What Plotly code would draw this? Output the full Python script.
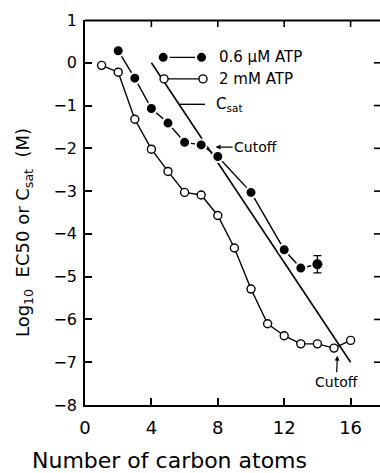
import plotly.graph_objects as go

# ---- data ----
carbons_low_atp = [2, 3, 4, 5, 6, 7, 8, 10, 12, 13, 14]
log_ec50_low_atp = [0.28, -0.36, -1.07, -1.41, -1.86, -1.92, -2.19, -3.03, -4.37, -4.80, -4.71]
err_last_low_atp = 0.2

carbons_high_atp = [1, 2, 3, 4, 5, 6, 7, 8, 9, 10, 11, 12, 13, 14, 15, 16]
log_ec50_high_atp = [-0.06, -0.22, -1.32, -2.02, -2.54, -3.03, -3.09, -3.57, -4.33,
                     -5.29, -6.10, -6.38, -6.57, -6.57, -6.67, -6.49]

csat_x = [4, 16]
csat_y = [0, -7]

x_ticks = [0, 4, 8, 12, 16]
y_ticks = [1, 0, -1, -2, -3, -4, -5, -6, -7, -8]

legend_labels = ["0.6 \u03bcM ATP", "2 mM ATP", "C<sub>sat</sub>"]

FONT = "DejaVu Sans"
BLACK = "black"
PLOT_W, PLOT_H = 295, 385
XMAX = PLOT_W / 16.6
YMIN, YMAX = -8, 1


def px(fx):   # plot-area fraction -> x data
    return fx * XMAX


def py(fy):   # plot-area fraction -> y data
    return YMIN + fy * (YMAX - YMIN)


fig = go.Figure()

fig.add_trace(go.Scatter(x=csat_x, y=csat_y, mode="lines",
                         line=dict(color=BLACK, width=1.6), hoverinfo="skip"))
fig.add_trace(go.Scatter(x=carbons_high_atp, y=log_ec50_high_atp, mode="lines+markers",
                         line=dict(color=BLACK, width=1.4),
                         marker=dict(symbol="circle", size=8, color="white",
                                     line=dict(color=BLACK, width=1.4))))
fig.add_trace(go.Scatter(x=carbons_low_atp, y=log_ec50_low_atp, mode="lines+markers",
                         line=dict(color=BLACK, width=1.4),
                         marker=dict(symbol="circle", size=11, color=BLACK,
                                     line=dict(color="white", width=2))))
fig.add_trace(go.Scatter(x=[carbons_low_atp[-1]], y=[log_ec50_low_atp[-1]], mode="markers",
                         marker=dict(size=10, color=BLACK),
                         error_y=dict(type="constant", value=err_last_low_atp,
                                      color=BLACK, thickness=1.3, width=4)))

# ---- custom legend (layout positions as plot-area fractions) ----
leg_rows = [  # (x0, x1, y, text_x)
    (0.265, 0.395, 0.903, 0.446),
    (0.268, 0.400, 0.847, 0.446),
    (0.322, 0.407, 0.781, 0.437),
]
r = leg_rows[0]
fig.add_trace(go.Scatter(x=[px(r[0]), px(r[1])], y=[py(r[2]), py(r[2])], mode="lines+markers",
                         line=dict(color=BLACK, width=1.4),
                         marker=dict(size=11, color=BLACK, line=dict(color="white", width=2))))
r = leg_rows[1]
fig.add_trace(go.Scatter(x=[px(r[0]), px(r[1])], y=[py(r[2]), py(r[2])], mode="lines+markers",
                         line=dict(color=BLACK, width=1.4),
                         marker=dict(size=8, color="white", line=dict(color=BLACK, width=1.4))))
r = leg_rows[2]
fig.add_trace(go.Scatter(x=[px(r[0]), px(r[1])], y=[py(r[2]), py(r[2])], mode="lines",
                         line=dict(color=BLACK, width=1.4)))

annotations = []
for row, lab in zip(leg_rows, legend_labels):
    annotations.append(dict(x=row[3], y=row[2], xref="paper", yref="paper", text=lab,
                            showarrow=False, xanchor="left", yanchor="middle",
                            font=dict(family=FONT, size=15, color=BLACK)))

annotations.append(dict(x=7.87, y=-1.97, xref="x", yref="y", text="Cutoff",
                        showarrow=True, ax=40, ay=0, arrowhead=2, arrowsize=0.8,
                        arrowwidth=1.2, arrowcolor=BLACK, standoff=0,
                        font=dict(family=FONT, size=14, color=BLACK)))
annotations.append(dict(x=15.2, y=-6.85, xref="x", yref="y", text="Cutoff",
                        showarrow=True, ax=-1, ay=26, arrowhead=2, arrowsize=0.8,
                        arrowwidth=1.2, arrowcolor=BLACK, standoff=0,
                        font=dict(family=FONT, size=14, color=BLACK)))

annotations.append(dict(x=-0.207, y=0.449, xref="paper", yref="paper",
                        text="Log<sub>10</sub>  EC50 or C<sub>sat</sub>  (M)",
                        textangle=-90, showarrow=False, xanchor="center", yanchor="middle",
                        font=dict(family=FONT, size=18, color=BLACK)))
annotations.append(dict(x=0.288, y=-0.145, xref="paper", yref="paper",
                        text="Number of carbon atoms", showarrow=False,
                        xanchor="center", yanchor="middle",
                        font=dict(family=FONT, size=22, color=BLACK)))

# top frame line, top inward ticks, right-side inward ticks
shapes = [dict(type="line", xref="paper", yref="paper", x0=0, x1=1,
               y0=1 - 0.5 / PLOT_H, y1=1 - 0.5 / PLOT_H,
               line=dict(color=BLACK, width=2))]
for t in x_ticks[1:]:
    shapes.append(dict(type="line", xref="x", yref="paper", x0=t, x1=t,
                       y0=1, y1=1 - 7 / PLOT_H, line=dict(color=BLACK, width=1.6)))
for t in y_ticks[1:-1]:
    shapes.append(dict(type="line", xref="paper", yref="y", x0=1 - 6 / PLOT_W, x1=1,
                       y0=t, y1=t, line=dict(color=BLACK, width=1.6)))

fig.update_layout(
    width=380, height=473,
    margin=dict(l=85, r=0, t=20, b=68),
    paper_bgcolor="white", plot_bgcolor="white",
    showlegend=False,
    font=dict(family=FONT, color=BLACK),
    xaxis=dict(range=[0, XMAX], tickvals=x_ticks, ticktext=[str(v) for v in x_ticks],
               showline=True, linecolor=BLACK, linewidth=1.5,
               ticks="inside", ticklen=7, tickwidth=1.6, tickcolor=BLACK,
               ticklabelstandoff=6,
               showgrid=False, zeroline=False,
               tickfont=dict(family=FONT, size=18, color=BLACK)),
    yaxis=dict(range=[YMIN, YMAX], tickvals=y_ticks,
               showline=True, linecolor=BLACK, linewidth=1.5,
               ticks="inside", ticklen=7, tickwidth=1.6, tickcolor=BLACK,
               ticklabelstandoff=3,
               showgrid=False, zeroline=False,
               tickfont=dict(family=FONT, size=16, color=BLACK)),
    shapes=shapes,
    annotations=annotations,
)

fig.write_html("out.html")
